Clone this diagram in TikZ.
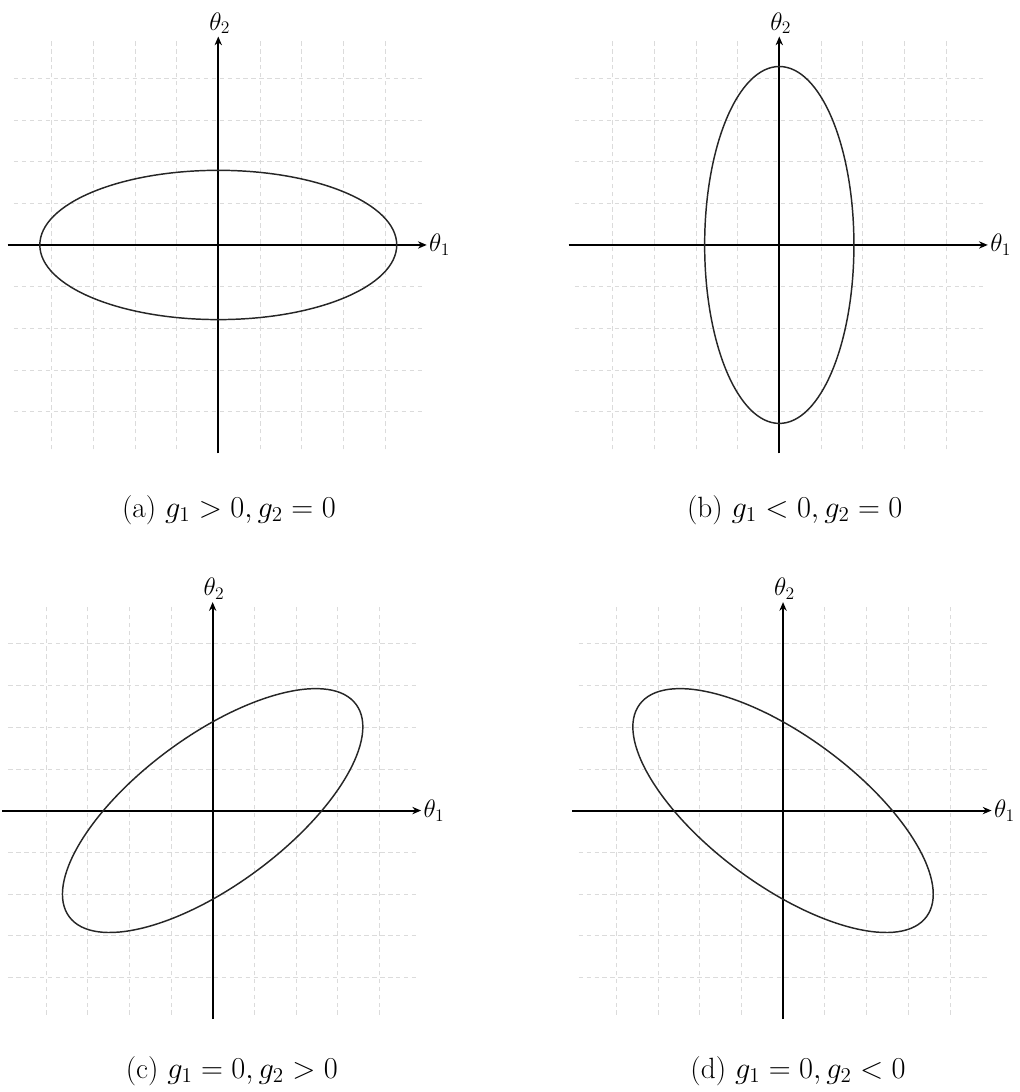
\documentclass[tikz,border=0pt]{standalone}
\usetikzlibrary{arrows.meta}
\tikzset{
  gridline/.style={gray!28, line width=0.45pt, dash pattern=on 3pt off 2.4pt},
  axisline/.style={line width=1.3pt, -{Stealth[length=6pt,width=5pt,inset=2pt]}},
  curveline/.style={line width=1pt, black!85},
  axlabel/.style={font=\fontsize{17}{20}\selectfont, inner sep=1.5pt},
  capnode/.style={font=\fontsize{20}{24}\selectfont, inner sep=0pt},
}
\newcommand\mypanel[4]{%
  \begin{scope}[shift={(#2,#3)}]
    \draw[gridline] (-4.9,-4.9) grid (4.9,4.9);
    \coordinate (#1-l) at (-5.05,0);
    \coordinate (#1-r) at (5.0,0);
    \coordinate (#1-b) at (0,-5.0);
    \coordinate (#1-t) at (0,5.0);
    \draw[axisline] (#1-l) -- (#1-r);
    \draw[axisline] (#1-b) -- (#1-t);
    \node[axlabel, anchor=west] (#1-xl) at (#1-r) {$\theta_1$};
    \node[axlabel, anchor=south] (#1-yl) at ([xshift=1pt]#1-t) {$\theta_2$};
    \draw[curveline, rotate=#4] (0,0) ellipse [x radius=4.28, y radius=1.79];
  \end{scope}}
\begin{document}
\begin{tikzpicture}
  \useasboundingbox (0,0) rectangle (24.46,-26.19);
  \mypanel{pa}{5.235}{-5.875}{0}
  \mypanel{pb}{18.69}{-5.875}{90}
  \mypanel{pc}{5.10}{-19.44}{36.5}
  \mypanel{pd}{18.78}{-19.44}{-36.5}
  \node[capnode] (ca) at (5.49,-12.23) {(a)\ $g_1 > 0, g_2 = 0$};
  \node[capnode] (cb) at (19.06,-12.23) {(b)\ $g_1 < 0, g_2 = 0$};
  \node[capnode] (cc) at (5.56,-25.68) {(c)\ $g_1 = 0, g_2 > 0$};
  \node[capnode] (cd) at (19.14,-25.68) {(d)\ $g_1 = 0, g_2 < 0$};
\end{tikzpicture}
\end{document}
